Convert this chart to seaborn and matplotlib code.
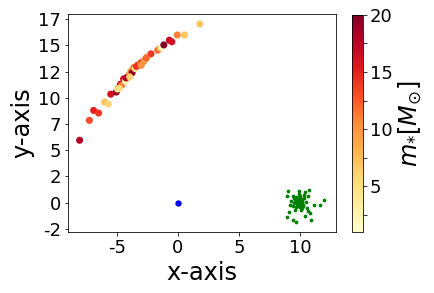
import numpy as np
import pandas as pd
import seaborn as sns
import matplotlib.pyplot as plt
from matplotlib.cm import ScalarMappable
from matplotlib.colors import Normalize

# stars along the arc, coloured by mass
star_x = [-8.05, -7.25, -6.9, -6.5, -6.0, -5.7, -5.5, -5.05, -4.95, -4.85,
          -4.7, -4.6, -4.45, -4.3, -4.15, -4.0, -3.85, -3.75, -3.6, -3.5,
          -3.25, -3.1, -2.95, -2.8, -2.7, -2.5, -2.35, -2.2, -1.65, -1.5,
          -1.35, -1.15, -0.7, -0.5, -0.05, 0.55, 1.8,
          -4.8, -4.25, -3.95, -3.4, -3.0, -2.6]
star_y = [5.95, 7.85, 8.8, 8.55, 9.6, 9.4, 10.35, 10.55, 10.85, 11.0,
          11.3, 11.2, 11.8, 11.6, 12.1, 12.2, 12.55, 12.4, 12.9, 12.8,
          13.15, 13.3, 13.4, 13.5, 13.65, 13.9, 14.0, 14.2, 14.55, 14.7,
          14.8, 15.05, 15.5, 15.35, 16.0, 16.0, 17.05,
          10.9, 11.9, 12.0, 13.0, 13.1, 13.8]
star_m = [18, 13, 15, 14, 7, 6, 16, 19, 4, 8,
          17, 11, 16, 3, 2, 10, 9, 19, 12, 4,
          20, 8, 15, 11, 9, 13, 3, 14, 12, 10,
          2, 20, 17, 16, 11, 7, 7,
          5, 18, 6, 14, 10, 12]

# central object
center_x = [0.0]
center_y = [0.0]

# cluster of small points
cl_x = [9.6, 9.7, 9.8, 9.9, 10.0, 10.1, 9.75, 9.85, 10.05, 10.2,
        9.9, 10.0, 9.65, 10.15, 9.55, 10.3, 9.95, 10.1, 9.8, 9.7,
        10.25, 9.5, 10.35, 9.9, 9.6, 10.0,
        9.04, 8.91, 9.45, 9.95, 10.41, 10.77, 10.63, 9.18, 9.07, 8.91,
        9.45, 9.64, 10.41, 10.66, 10.82, 10.87, 11.17, 11.64, 11.97,
        10.05, 10.27, 9.3, 10.5, 9.4, 10.6,
        9.85, 10.15, 9.7, 10.05, 9.9, 9.75, 10.2]
cl_y = [0.3, 0.1, 0.4, 0.2, 0.0, 0.3, -0.1, -0.3, -0.2, 0.1,
        0.5, 0.6, -0.4, -0.5, 0.0, 0.4, -0.05, 0.15, 0.0, 0.55,
        -0.2, 0.45, 0.7, 0.85, -0.7, -0.45,
        1.08, 0.6, 0.67, 1.14, 0.98, 1.17, 0.6, -0.19, -0.86, -1.4,
        -1.62, -1.84, -1.24, -0.76, -0.98, -1.69, -0.22, -0.22, 0.22,
        -0.67, -0.35, 0.2, 0.1, -0.35, -0.5,
        0.1, -0.1, 0.25, 0.35, -0.2, 0.15, 0.25]

ytick_vals = [-2.5, 0, 2.5, 5, 7.5, 10, 12.5, 15, 17.5]
ytick_labels = ["-2", "0", "2", "5", "7", "10", "12", "15", "17"]
xtick_vals = [-5, 0, 5, 10]
xtick_labels = ["-5", "0", "5", "10"]
cbar_ticks = [2.5, 5, 7.5, 10, 12.5, 15, 17.5, 20]
cbar_labels = ["", "5", "", "10", "", "15", "", "20"]

fig = plt.figure(figsize=(434 / 72, 293 / 72), dpi=72)
ax = fig.add_axes([0.1567, 0.2082, 0.6175, 0.744])
cax = fig.add_axes([0.811, 0.2082, 0.0253, 0.741])

stars = pd.DataFrame({"x": star_x, "y": star_y, "m": star_m})
norm = Normalize(vmin=1, vmax=20)
sns.scatterplot(data=stars, x="x", y="y", hue="m", palette="YlOrRd",
                hue_norm=norm, s=50, linewidth=0, alpha=1, legend=False, ax=ax)
sns.scatterplot(x=center_x, y=center_y, color="blue", s=40, linewidth=0, ax=ax)
sns.scatterplot(x=cl_x, y=cl_y, color="green", s=14, linewidth=0, ax=ax)

ax.set_xlim(-9.0, 12.95)
ax.set_ylim(-2.8, 18.0)
ax.set_xticks(xtick_vals, xtick_labels)
ax.set_yticks(ytick_vals, ytick_labels)
ax.tick_params(labelsize=18)
ax.set_xlabel("x-axis", fontsize=24)
ax.set_ylabel("y-axis", fontsize=24)

sm = ScalarMappable(norm=norm, cmap="YlOrRd")
cb = fig.colorbar(sm, cax=cax)
cb.set_ticks(cbar_ticks, labels=cbar_labels)
cb.ax.tick_params(labelsize=18)
cb.set_label(r"$m_{*}[M_{\odot}]$", fontsize=24)

fig.savefig("out.png", dpi=72)
